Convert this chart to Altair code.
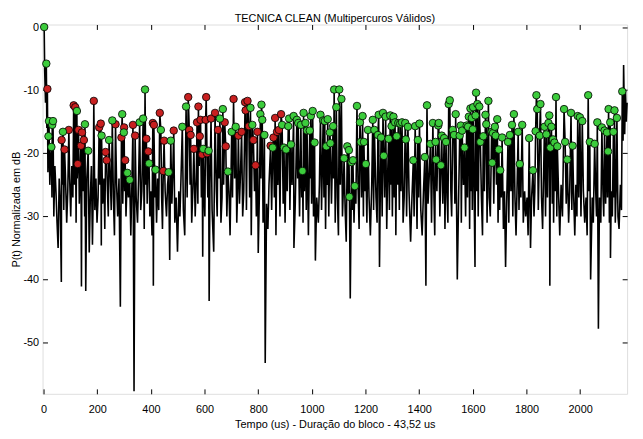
import altair as alt
import pandas as pd

# Red markers (x in us, y in dB)
red_x = [14, 67, 78, 94, 112, 118, 127, 130, 139, 143, 150, 187, 207, 213, 231, 235, 268, 290, 300, 304,
         333, 341, 383, 390, 407, 411, 433, 446, 449, 485, 539, 543, 548, 560, 572, 577, 582, 585, 591, 604,
         606, 609, 624, 639, 650, 675, 679, 708, 726, 738, 751, 753, 760, 765, 782, 790, 797, 846, 857, 863,
         870, 877, 885]
red_y = [-9.8, -17.9, -19.4, -16.3, -12.4, -12.7, -21.7, -16.3, -18.8, -16.7, -17.9, -11.7, -15.9, -15.3, -19.8, -21.1, -15.4, -17.5, -15.9, -21.1,
         -15.5, -17.2, -17.7, -19.7, -15.2, -15.5, -13.6, -22.8, -18.0, -16.4, -11.1, -16.3, -17.1, -19.3, -15.1, -12.6, -17.3, -14.7, -20.2, -14.7,
         -11.1, -20.0, -14.5, -13.6, -16.3, -15.1, -18.9, -11.4, -17.2, -16.6, -11.9, -13.2, -11.7, -15.7, -17.9, -21.9, -16.6, -18.8, -17.5, -14.4,
         -16.6, -16.3, -13.8]

# Green markers
green_x = [2, 10, 18, 20, 29, 32, 35, 72, 124, 154, 166, 216, 244, 256, 293, 299, 312, 321, 358, 371,
           378, 393, 417, 437, 466, 474, 517, 531, 595, 615, 657, 668, 687, 701, 716, 771, 778, 808, 812, 815,
           823, 854, 889, 896, 904, 912, 915, 922, 932, 944, 949, 959, 965, 969, 976, 982, 992, 996, 1003, 1010,
           1032, 1042, 1048, 1054, 1059, 1067, 1069, 1079, 1083, 1091, 1102, 1110, 1120, 1132, 1138, 1140, 1148, 1153, 1160, 1168,
           1179, 1182, 1189, 1194, 1201, 1209, 1227, 1233, 1246, 1249, 1258, 1265, 1268, 1275, 1286, 1292, 1297, 1304, 1310, 1316,
           1322, 1329, 1336, 1348, 1350, 1358, 1378, 1385, 1395, 1401, 1421, 1429, 1442, 1451, 1461, 1463, 1471, 1473, 1481, 1484,
           1493, 1500, 1510, 1514, 1525, 1530, 1536, 1551, 1555, 1560, 1569, 1577, 1582, 1585, 1591, 1596, 1600, 1601, 1610, 1612,
           1617, 1624, 1628, 1639, 1647, 1650, 1658, 1670, 1672, 1675, 1682, 1685, 1691, 1697, 1702, 1709, 1731, 1738, 1746, 1753,
           1769, 1775, 1784, 1810, 1824, 1834, 1837, 1840, 1849, 1852, 1867, 1874, 1882, 1885, 1889, 1893, 1899, 1904, 1910, 1915,
           1940, 1944, 1952, 1966, 1972, 1991, 1999, 2008, 2030, 2036, 2054, 2064, 2081, 2091, 2100, 2104, 2106, 2112, 2124, 2128,
           2137, 2157]
green_y = [0.0, -5.8, -17.3, -14.9, -19.0, -15.5, -14.9, -16.6, -13.3, -15.4, -19.6, -17.2, -17.9, -14.8, -13.8, -16.7, -23.1, -24.2, -15.1, -14.5,
           -9.9, -21.6, -22.6, -16.3, -23.0, -18.0, -15.8, -12.6, -19.3, -19.6, -14.5, -13.0, -22.9, -16.6, -15.8, -12.8, -15.5, -13.8, -12.3, -14.7,
           -17.1, -19.1, -15.5, -19.1, -19.4, -15.7, -14.5, -18.6, -14.1, -14.7, -15.2, -15.5, -22.8, -13.6, -15.2, -16.4, -16.4, -14.1, -13.3, -18.3,
           -13.9, -14.8, -14.9, -18.9, -14.6, -16.7, -18.4, -15.7, -9.9, -12.7, -9.9, -11.4, -20.8, -18.9, -19.5, -26.9, -21.4, -21.1, -25.2, -12.5,
           -15.1, -18.2, -14.1, -18.2, -21.7, -16.3, -14.7, -16.3, -17.1, -13.9, -17.5, -13.6, -20.4, -14.2, -17.7, -14.0, -15.7, -14.2, -15.1, -17.3,
           -15.2, -15.3, -15.1, -15.2, -17.8, -15.8, -21.1, -15.7, -17.9, -15.3, -20.6, -12.4, -18.5, -15.2, -18.2, -21.0, -15.6, -15.2, -21.9, -17.2,
           -17.6, -18.2, -12.2, -11.6, -16.3, -17.1, -13.8, -17.2, -15.6, -16.4, -19.1, -15.6, -15.8, -14.2, -12.9, -14.4, -16.2, -12.7, -14.0, -10.4,
           -12.2, -12.6, -18.2, -17.3, -13.9, -15.4, -11.7, -16.6, -21.5, -16.8, -15.8, -17.2, -14.6, -19.4, -22.7, -17.5, -18.2, -17.1, -15.5, -13.8,
           -16.6, -21.7, -15.5, -17.6, -22.7, -16.5, -10.8, -13.0, -17.2, -12.2, -15.8, -17.0, -15.2, -14.0, -19.1, -15.8, -17.8, -18.3, -11.1, -18.9,
           -13.0, -18.2, -21.0, -13.6, -18.8, -14.1, -14.3, -14.9, -10.8, -18.2, -18.5, -15.1, -15.9, -16.4, -16.7, -19.7, -13.0, -15.1, -16.6, -13.2,
           -14.4, -10.2]

# Signal samples between the detected peaks (troughs and spikes of the black trace)
trough_x = [4, 7, 12, 16, 23, 26, 31, 38, 42, 46, 50, 54, 58, 62, 66, 70, 75, 81, 86, 90, 97, 101, 105, 109,
            115, 121, 125, 133, 136, 141, 147, 153, 157, 161, 170, 174, 178, 182, 185, 191, 195, 199,
            203, 210, 215, 220, 225, 228, 238, 241, 248, 252, 260, 264, 272, 276, 281, 286, 295, 302,
            307, 316, 325, 329, 337, 345, 350, 354, 362, 366, 375, 381, 386, 396,
            400, 404, 409, 415, 421, 425, 429, 440, 443, 453, 458, 462, 470, 478, 481, 489, 494, 499,
            504, 508, 512, 521, 526, 535, 546, 552, 556, 565, 569, 575, 580, 588, 593, 598,
            601, 612, 617, 620, 628, 634, 644, 647, 654, 661, 665, 671, 683, 691, 695, 704,
            712, 720, 723, 730, 734, 742, 746, 756, 768, 774, 786, 793, 800,
            804, 810, 818, 821, 826, 831, 836, 840, 850, 860, 866, 873, 881, 893, 900,
            908, 918, 926, 933, 938, 947, 954, 962, 967, 972, 979, 987, 994, 999,
            1006, 1013, 1018, 1024, 1028, 1036, 1045, 1051, 1057, 1063, 1073, 1081, 1087, 1095, 1099,
            1106, 1114, 1117, 1124, 1128, 1135, 1143, 1151, 1157, 1164, 1172, 1176, 1185, 1192, 1197,
            1205, 1213, 1218, 1223, 1230, 1239, 1243, 1252, 1255, 1262, 1271, 1279, 1282, 1289, 1294,
            1300, 1307, 1313, 1319, 1326, 1332, 1340, 1344, 1353, 1362, 1368, 1373, 1381, 1389, 1392, 1398,
            1406, 1411, 1416, 1425, 1433, 1437, 1446, 1455, 1458, 1466, 1477, 1488, 1496,
            1504, 1507, 1518, 1521, 1533, 1542, 1547, 1557, 1565, 1573, 1580, 1588, 1593, 1598,
            1605, 1608, 1614, 1620, 1632, 1636, 1643, 1653, 1661, 1665, 1678, 1688, 1694, 1700,
            1706, 1714, 1718, 1722, 1726, 1734, 1742, 1749, 1757, 1761, 1765, 1772, 1779, 1788, 1793, 1797,
            1802, 1806, 1815, 1819, 1828, 1831, 1844, 1856, 1860, 1863, 1871, 1878, 1887, 1896, 1901,
            1907, 1913, 1920, 1924, 1929, 1934, 1948, 1957, 1961, 1969, 1976, 1980, 1984, 1988, 1995,
            2003, 2012, 2017, 2022, 2026, 2033, 2039, 2045, 2049, 2058, 2061, 2068, 2072, 2077, 2085, 2088, 2095,
            2102, 2109, 2113, 2116, 2120, 2126, 2131, 2134, 2141, 2145, 2150, 2154, 2160, 2162, 2166, 2169, 2172, 2175]
trough_y = [-7, -12, -16, -23, -25, -21, -27, -30, -22, -26, -31, -35, -24, -28, -40.4, -25, -29, -23, -31, -26, -24, -30, -22, -27,
            -25, -31, -24, -28, -23, -41.1, -26, -30, -41.8, -24, -35.7, -27, -22, -34.5, -26, -29, -24, -31,
            -27, -25, -34.6, -28, -24, -32, -26, -30, -23, -29, -27, -33, -25, -30, -24, -44.3, -28, -26,
            -30, -27, -33, -25, -57.7, -27, -31, -24, -29, -26, -32, -25, -28, -30,
            -26, -33, -41, -27, -31, -24, -29, -27, -32, -26, -30, -25, -36.9, -28, -24, -31, -27, -35.6,
            -26, -30, -24, -29, -33, -27, -25, -31, -26, -30, -24, -28, -22, -27, -36.4, -26,
            -30, -27, -43.4, -25, -29, -35.6, -26, -30, -24, -31, -27, -25, -30, -26, -33, -27,
            -24, -31, -26, -28, -23, -30, -26, -29, -27, -33, -26, -30, -35.8,
            -27, -24, -31, -26, -53.2, -28, -32, -25, -29, -27, -33, -25, -30, -28, -31,
            -26, -29, -25, -35, -28, -24, -30, -27, -31, -26, -29, -33, -24, -28,
            -30, -37, -27, -31, -25, -29, -27, -32, -25, -30, -28, -24, -31, -27, -33,
            -25, -30, -26, -29, -34, -27, -43, -29, -31, -28, -25, -32, -27, -30, -26,
            -31, -27, -33, -25, -29, -27, -31, -38, -26, -30, -27, -32, -24, -29, -25,
            -30, -27, -33, -25, -29, -26, -31, -27, -30, -26, -34, -27, -30, -25, -32, -27,
            -29, -33, -26, -41, -28, -24, -31, -27, -33, -26, -30, -28, -32,
            -27, -31, -26, -30, -28, -40, -27, -31, -25, -30, -27, -32, -26, -29,
            -27, -38, -26, -30, -27, -33, -26, -31, -27, -30, -28, -25, -31, -29,
            -27, -32, -26, -38, -28, -31, -26, -30, -27, -33, -25, -29, -27, -31, -26, -30,
            -27, -33, -35, -27, -30, -26, -29, -27, -32, -25, -30, -27, -41, -28, -31,
            -26, -30, -27, -33, -25, -30, -28, -31, -26, -29, -27, -33, -25, -30, -27,
            -30, -26, -31, -27, -33, -26, -40, -27, -31, -26, -30, -47.8, -27, -31, -26, -30, -28,
            -27, -31, -36.6, -26, -30, -27, -31, -26, -30, -32, -25, -29, -18, -6, -17, -10, -15, -12]

x_ticks = [0, 200, 400, 600, 800, 1000, 1200, 1400, 1600, 1800, 2000]
y_ticks = [0, -10, -20, -30, -40, -50]

markers = pd.DataFrame({
    "t": red_x + green_x,
    "p": red_y + green_y,
    "c": ["red"] * len(red_x) + ["green"] * len(green_x),
})
signal = pd.concat([
    pd.DataFrame({"t": red_x + green_x, "p": red_y + green_y}),
    pd.DataFrame({"t": trough_x, "p": trough_y}),
]).sort_values("t", kind="stable").reset_index(drop=True)
signal["i"] = range(len(signal))

FONT = "Liberation Sans"
xs = alt.Scale(domain=[-4, 2175], nice=False, zero=False)
ys = alt.Scale(domain=[-58.1, 0.4], nice=False, zero=False)

common_axis = dict(domain=False, grid=False, tickColor="black", tickSize=5, offset=-5,
                   labelFont=FONT, labelFontSize=11, labelColor="black",
                   titleFont=FONT, titleFontSize=11, titleColor="black", titleFontWeight="normal",
                   labelExpr="'' + datum.value")

line = alt.Chart(signal).mark_line(color="black", strokeWidth=1.6, interpolate="linear").encode(
    x=alt.X("t:Q", scale=xs, axis=alt.Axis(orient="bottom", values=x_ticks, labelPadding=10,
                                          title="Tempo (us) - Duração do bloco - 43,52 us",
                                          titlePadding=4, **common_axis)),
    y=alt.Y("p:Q", scale=ys, axis=alt.Axis(orient="left", values=y_ticks, labelPadding=4,
                                          title="P(t) Normalizada em dB", titlePadding=1, **common_axis)),
    order="i:Q",
)

opp_axis = dict(domain=False, grid=False, tickColor="black", tickSize=5, offset=-5, labels=False, title=None)

dots = alt.Chart(markers).mark_point(filled=True, shape="circle", size=58, stroke="black",
                                     strokeWidth=0.8, opacity=1).encode(
    x=alt.X("t:Q", scale=xs, axis=alt.Axis(orient="top", values=x_ticks, **opp_axis)),
    y=alt.Y("p:Q", scale=ys, axis=alt.Axis(orient="right", values=y_ticks, **opp_axis)),
    fill=alt.Fill("c:N", scale=alt.Scale(domain=["red", "green"], range=["#c82020", "#3ccc3c"]), legend=None),
)

chart = alt.layer(line, dots).resolve_axis(x="independent", y="independent").properties(
    width=592, height=374,
    autosize=alt.AutoSizeParams(type="none"),
    padding={"left": 35, "top": 14, "right": 8, "bottom": 40},
    title=alt.TitleParams("TECNICA CLEAN (Multipercuros Válidos)", font=FONT, fontSize=11,
                          fontWeight="normal", color="black", offset=-3),
).configure_view(stroke="black", strokeWidth=1).configure(background="white")

chart.save("out.html", embed_options={"renderer": "svg", "actions": False})
